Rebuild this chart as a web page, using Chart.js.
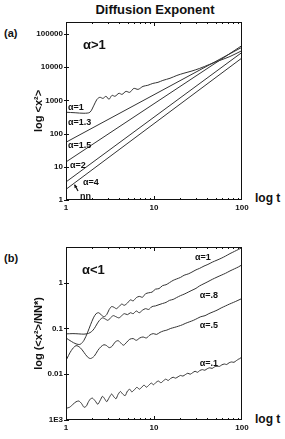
<!DOCTYPE html>
<html>
<head>
<meta charset="utf-8">
<script src="https://cdn.jsdelivr.net/npm/chart.js@4.4.0/dist/chart.umd.min.js"></script>
<style>
body { margin: 0; background: #fff; width: 285px; height: 439px; position: relative; overflow: hidden; font-family: "Liberation Sans", Arial, sans-serif; }
canvas { position: absolute; left: 0; }
.txt { position: absolute; font-weight: bold; color: #111; white-space: nowrap; line-height: 1; }
</style>
</head>
<body>
<div class="txt" style="left:0;width:310px;text-align:center;top:3px;font-size:13px;">Diffusion Exponent</div>
<div class="txt" style="left:4px;top:28px;font-size:11px;">(a)</div>
<div class="txt" style="left:4px;top:253px;font-size:11px;">(b)</div>
<div class="txt" style="left:255px;top:192px;font-size:12px;">log t</div>
<div class="txt" style="left:255px;top:413px;font-size:12px;">log t</div>
<canvas id="grafica-a" width="285" height="218" style="top:0;"></canvas>
<canvas id="grafica-b" width="285" height="214" style="top:225px;"></canvas>
<script>
// Panel (a): alfa > 1
var tiempoRectas = [1, 100];
var alfa13 = [55, 40000];
var alfa15 = [14, 45000];
var alfa2 = [3.5, 28000];
var alfaNN = [2.1, 19000];
var tiempoAlfa1 = [1, 1.27, 1.6, 1.87, 2.08, 2.25, 2.43, 2.63, 2.85, 3.08, 3.33, 3.6, 4.0, 4.33, 4.8, 5.3,
	5.9, 6.6, 7.5, 8.5, 9.7, 11.1, 12.6, 15.2, 18.2, 21.9, 27, 33, 43, 56, 73, 100];
var alfa1 = [440, 425, 410, 440, 720, 1080, 1240, 1150, 1330, 1080, 1420, 1330, 1640, 1520, 1870, 1750,
	2300, 2150, 2650, 2850, 3250, 3500, 4000, 4640, 5650, 6600, 7700, 9200, 12200, 16000, 21000, 31600];
var ticksYA = [1, 10, 100, 1000, 10000, 100000];
var etiquetasYA = ['1', '10', '100', '1000', '10000', '100000'];

// Panel (b): alfa < 1
var tiempoB1 = [1, 1.15, 1.3, 1.45, 1.6, 1.75, 1.9, 2.05, 2.2, 2.35, 2.5, 2.7, 2.9, 3.1, 3.3, 3.5, 3.75, 4.0, 4.3, 4.6,
	5.0, 5.4, 5.8, 6.3, 6.8, 7.4, 8.0, 8.7, 9.5, 10.4, 11.4, 12.5, 13.7, 15, 16.5, 18, 20, 22, 24.5, 27,
	30, 33, 37, 41, 46, 52, 58, 65, 73, 82, 91, 100];
var valoresB1 = [0.062, 0.052, 0.046, 0.045, 0.055, 0.08, 0.12, 0.17, 0.21, 0.22, 0.2, 0.18, 0.2, 0.26, 0.3, 0.29, 0.27, 0.3, 0.34, 0.32,
	0.36, 0.42, 0.4, 0.47, 0.5, 0.48, 0.57, 0.6, 0.62, 0.72, 0.74, 0.86, 0.9, 1.0, 1.12, 1.2, 1.3, 1.45, 1.55, 1.7,
	1.9, 2.05, 2.3, 2.5, 2.8, 3.1, 3.4, 3.8, 4.3, 4.8, 5.3, 5.8];
var tiempoB08 = [1, 1.2, 1.4, 1.6, 1.8, 1.95, 2.1, 2.25, 2.4, 2.6, 2.8, 3.0, 3.2, 3.45, 3.7, 4.0, 4.3, 4.6, 5.0, 5.4,
	5.8, 6.3, 6.8, 7.4, 8.0, 8.7, 9.5, 10.4, 11.4, 12.5, 13.7, 15, 16.5, 18, 20, 22, 24.5, 27, 30, 33,
	37, 41, 46, 52, 58, 65, 73, 82, 91, 100];
var valoresB08 = [0.076, 0.077, 0.076, 0.075, 0.078, 0.085, 0.1, 0.125, 0.15, 0.17, 0.16, 0.15, 0.17, 0.19, 0.18, 0.17, 0.19, 0.21, 0.2, 0.22,
	0.21, 0.24, 0.22, 0.25, 0.27, 0.26, 0.3, 0.31, 0.33, 0.35, 0.37, 0.41, 0.43, 0.47, 0.52, 0.56, 0.62, 0.68, 0.75, 0.85,
	0.95, 1.05, 1.18, 1.32, 1.45, 1.6, 1.8, 2.0, 2.2, 2.45];
var tiempoB05 = [1, 1.15, 1.3, 1.45, 1.6, 1.75, 1.9, 2.1, 2.3, 2.5, 2.7, 2.9, 3.1, 3.35, 3.6, 3.9, 4.2, 4.5, 4.9, 5.3,
	5.8, 6.3, 6.9, 7.5, 8.2, 9, 9.8, 10.7, 11.7, 12.8, 14, 15.5, 17, 19, 21, 23, 25.5, 28, 31, 34,
	38, 42, 47, 52, 58, 65, 72, 80, 90, 100];
var valoresB05 = [0.02, 0.033, 0.042, 0.038, 0.03, 0.024, 0.022, 0.025, 0.033, 0.04, 0.044, 0.042, 0.038, 0.041, 0.05, 0.054, 0.048, 0.043, 0.05, 0.058,
	0.06, 0.055, 0.062, 0.065, 0.062, 0.072, 0.077, 0.074, 0.082, 0.088, 0.092, 0.1, 0.105, 0.112, 0.12, 0.13, 0.14, 0.15, 0.165, 0.18,
	0.19, 0.21, 0.23, 0.25, 0.28, 0.31, 0.34, 0.37, 0.41, 0.45];
var tiempoB01 = [1, 1.1, 1.2, 1.3, 1.4, 1.5, 1.6, 1.7, 1.8, 1.9, 2.0, 2.15, 2.3, 2.45, 2.6, 2.75, 2.9, 3.1, 3.3, 3.5,
	3.7, 3.9, 4.15, 4.4, 4.7, 5.0, 5.3, 5.6, 6.0, 6.4, 6.8, 7.2, 7.7, 8.2, 8.7, 9.3, 9.9, 10.5, 11.2, 12,
	12.8, 13.6, 14.5, 15.5, 16.5, 17.6, 18.8, 20, 21.3, 22.7, 24.2, 25.8, 27.5, 29.3, 31.2, 33.3, 35.5, 37.8, 40.3, 43,
	45.8, 48.8, 52, 55.4, 59, 62.9, 67, 71.4, 76, 81, 86.3, 92, 96, 100];
var valoresB01 = [0.0018, 0.0019, 0.0022, 0.0025, 0.0026, 0.0023, 0.0019, 0.002, 0.0025, 0.0029, 0.003, 0.0026, 0.0022, 0.0027, 0.0033, 0.0029, 0.0025, 0.0031, 0.0037, 0.0032,
	0.0029, 0.0036, 0.0042, 0.0037, 0.0034, 0.0043, 0.0047, 0.0041, 0.0046, 0.0052, 0.0047, 0.0051, 0.0058, 0.0052, 0.0057, 0.0064, 0.0059, 0.0066, 0.0071, 0.0065,
	0.0072, 0.0078, 0.0073, 0.0081, 0.0086, 0.0082, 0.0088, 0.0094, 0.0091, 0.0098, 0.0105, 0.01, 0.0108, 0.0116, 0.011, 0.0121, 0.0126, 0.0122, 0.0132, 0.0138,
	0.0134, 0.0145, 0.015, 0.0148, 0.016, 0.0167, 0.0163, 0.0178, 0.0185, 0.0182, 0.0198, 0.0215, 0.0222, 0.025];
var ticksYB = [0.001, 0.01, 0.1, 1];
var etiquetasYB = ['1E3', '0.01', '0.1', '1'];

var ticksX = [1, 10, 100];
var etiquetasX = ['1', '10', '100'];

var COLOR_LINEA = '#333';
var FUENTE_TICKS = { family: '"Liberation Sans Narrow", "Liberation Sans", sans-serif', size: 8, weight: 'bold' };

function puntos(tiempos, valores)
{
	return tiempos.map(function (t, i) { return { x: t, y: valores[i] }; });
}

function serie(tiempos, valores, tension)
{
	return {
		data: puntos(tiempos, valores),
		borderColor: COLOR_LINEA,
		borderWidth: 1,
		pointRadius: 0,
		fill: false,
		tension: tension
	};
}

// Marco completo con marcas hacia dentro, como en la figura original
var marcoPlugin = {
	id: 'marco',
	afterDraw: function (chart)
	{
		var ctx = chart.ctx;
		var area = chart.chartArea;
		var ejeX = chart.scales.x;
		var ejeY = chart.scales.y;
		ctx.save();
		ctx.strokeStyle = '#111';
		ctx.lineWidth = 1;
		ctx.strokeRect(area.left + 0.5, area.top + 0.5, area.right - area.left - 1, area.bottom - area.top - 1);
		ctx.beginPath();
		for (var d = 1; d < 100; d *= 10)
		{
			for (var k = 1; k < 10; k++)
			{
				var px = Math.round(ejeX.getPixelForValue(d * k)) + 0.5;
				var largo = (k === 1) ? 4 : 2;
				ctx.moveTo(px, area.bottom);
				ctx.lineTo(px, area.bottom - largo);
				ctx.moveTo(px, area.top);
				ctx.lineTo(px, area.top + largo);
			}
		}
		ejeY.ticks.forEach(function (tick)
		{
			var py = Math.round(ejeY.getPixelForValue(tick.value)) + 0.5;
			ctx.moveTo(area.left - 2, py);
			ctx.lineTo(area.left + 3, py);
		});
		ctx.stroke();
		ctx.restore();
	}
};

function etiquetasPlugin(lista, flecha)
{
	return {
		id: 'etiquetas',
		afterDraw: function (chart)
		{
			var ctx = chart.ctx;
			var ejeX = chart.scales.x;
			var ejeY = chart.scales.y;
			ctx.save();
			ctx.fillStyle = '#111';
			ctx.textAlign = 'left';
			ctx.textBaseline = 'middle';
			lista.forEach(function (e)
			{
				ctx.font = e.fuente;
				ctx.fillText(e.texto, ejeX.getPixelForValue(e.t), ejeY.getPixelForValue(e.v));
			});
			if (flecha)
			{
				var x0 = ejeX.getPixelForValue(flecha[0]), y0 = ejeY.getPixelForValue(flecha[1]);
				var x1 = ejeX.getPixelForValue(flecha[2]), y1 = ejeY.getPixelForValue(flecha[3]);
				ctx.strokeStyle = '#111';
				ctx.lineWidth = 1.2;
				ctx.beginPath();
				ctx.moveTo(x0, y0);
				ctx.lineTo(x1, y1);
				ctx.stroke();
				var ang = Math.atan2(y1 - y0, x1 - x0);
				ctx.beginPath();
				ctx.moveTo(x1, y1);
				ctx.lineTo(x1 - 3.5 * Math.cos(ang - 0.5), y1 - 3.5 * Math.sin(ang - 0.5));
				ctx.lineTo(x1 - 3.5 * Math.cos(ang + 0.5), y1 - 3.5 * Math.sin(ang + 0.5));
				ctx.closePath();
				ctx.fill();
			}
			ctx.restore();
		}
	};
}

function creaGrafica(id, datasets, yMin, yMax, ticksY, etiquetasY, tituloY, altoEjeX, etiquetas, flecha)
{
	var contexto = document.getElementById(id).getContext('2d');
	return new Chart(contexto, {
		type: 'line',
		data: { datasets: datasets },
		plugins: [marcoPlugin, etiquetasPlugin(etiquetas, flecha)],
		options: {
			responsive: false,
			animation: false,
			events: [],
			layout: { padding: { left: 0, right: 43, top: 22, bottom: 0 } },
			plugins: { legend: { display: false }, tooltip: { enabled: false } },
			scales: {
				x: {
					type: 'logarithmic',
					min: 1,
					max: 100,
					afterBuildTicks: function (eje) { eje.ticks = ticksX.map(function (v) { return { value: v }; }); },
					afterFit: function (eje) { eje.height = altoEjeX; },
					grid: { display: false, drawTicks: false },
					border: { display: false },
					ticks: {
						autoSkip: false, maxRotation: 0, padding: 3, color: '#111', font: FUENTE_TICKS,
						callback: function (valor, indice) { return etiquetasX[indice]; }
					}
				},
				y: {
					type: 'logarithmic',
					min: yMin,
					max: yMax,
					afterBuildTicks: function (eje) { eje.ticks = ticksY.map(function (v) { return { value: v }; }); },
					afterFit: function (eje) { eje.width = 66; },
					grid: { display: false, drawTicks: false },
					border: { display: false },
					ticks: {
						autoSkip: false, padding: 3, color: '#111', font: FUENTE_TICKS,
						callback: function (valor, indice) { return etiquetasY[indice]; }
					},
					title: {
						display: true,
						text: tituloY,
						color: '#111',
						padding: { top: 32, bottom: 0 },
						font: { family: '"Liberation Sans", sans-serif', size: 11, weight: 'bold' }
					}
				}
			}
		}
	});
}

var fuenteChica = 'bold 9px "Liberation Sans", sans-serif';
var fuenteGrande = 'bold 13px "Liberation Sans", sans-serif';

creaGrafica('grafica-a', [
	serie(tiempoAlfa1, alfa1, 0.3),
	serie(tiempoRectas, alfa13, 0),
	serie(tiempoRectas, alfa15, 0),
	serie(tiempoRectas, alfa2, 0),
	serie(tiempoRectas, alfaNN, 0)
], 1, 230000, ticksYA, etiquetasYA, 'log <x\u00b2>', 18, [
	{ texto: '\u03b1>1', t: 1.56, v: 45000, fuente: fuenteGrande },
	{ texto: '\u03b1=1', t: 1.053, v: 620, fuente: fuenteChica },
	{ texto: '\u03b1=1.3', t: 1.053, v: 220, fuente: fuenteChica },
	{ texto: '\u03b1=1.5', t: 1.053, v: 45, fuente: fuenteChica },
	{ texto: '\u03b1=2', t: 1.11, v: 11.2, fuente: fuenteChica },
	{ texto: '\u03b1=4', t: 1.56, v: 3.47, fuente: fuenteChica },
	{ texto: 'nn', t: 1.44, v: 1.23, fuente: fuenteChica }
], [1.37, 1.86, 1.25, 2.9]);

creaGrafica('grafica-b', [
	serie(tiempoB1, valoresB1, 0.3),
	serie(tiempoB08, valoresB08, 0.3),
	serie(tiempoB05, valoresB05, 0.3),
	serie(tiempoB01, valoresB01, 0.2)
], 0.001, 6, ticksYB, etiquetasYB, 'log (<x\u00b2>/NN*)', 19, [
	{ texto: '\u03b1<1', t: 1.52, v: 1.83, fuente: fuenteGrande },
	{ texto: '\u03b1=1', t: 29.3, v: 3.52, fuente: fuenteChica },
	{ texto: '\u03b1=.8', t: 33, v: 0.52, fuente: fuenteChica },
	{ texto: '\u03b1=.5', t: 33, v: 0.115, fuente: fuenteChica },
	{ texto: '\u03b1=.1', t: 33, v: 0.0169, fuente: fuenteChica }
], null);
</script>
</body>
</html>
